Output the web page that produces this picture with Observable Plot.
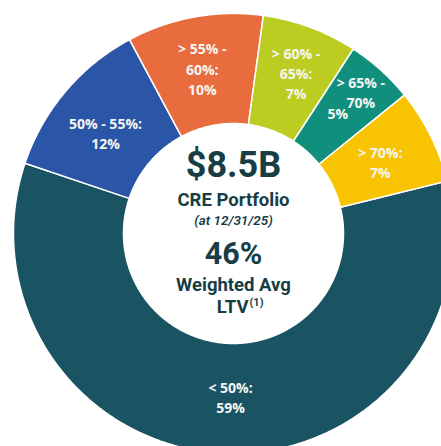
<!DOCTYPE html>
<html><head><meta charset="utf-8">
<script src="https://cdn.jsdelivr.net/npm/d3@7"></script>
<script src="https://cdn.jsdelivr.net/npm/@observablehq/plot@0.6"></script>
<style>html,body{margin:0;padding:0;background:#fff;overflow:hidden}</style>
</head><body><div id="chart"></div>
<script>
// ---- data ----
const categories = ["< 50%", "50% - 55%", "> 55% - 60%", "> 60% - 65%", "> 65% - 70%", "> 70%"];
const shares = [59, 12, 10, 7, 5, 7];
const sliceLabels = ["< 50%:\n59%", "50% - 55%:\n12%", "> 55% -\n60%:\n10%", "> 60% -\n65%:\n7%", "> 65% -\n70%", "> 70%:\n7%"];
const extraLabel = "5%";
const colors = ["#1a5462", "#2b55a7", "#e86c3e", "#bdcc21", "#0f8f7c", "#f8c300"];
const centerLines = ["$8.5B", "CRE Portfolio", "(at 12/31/25)", "46%", "Weighted Avg", "LTV"];
const footnoteMark = "(1)";

// ---- layout ----
const W = 441, H = 446, CX = 233, CY = 233, RPX = 220;
const R_OUT = 1, R_IN = 0.5;
const startAngle = 76.2 * Math.PI / 180;
const labelNudge = [[4, -2], [-2, 6], [-2, -3], [5, -6], [17, -19], [-1, 1]]; // px
const total = d3.sum(shares);
let acc = startAngle;
const slices = categories.map((c, i) => {
  const a0 = acc, a1 = acc + shares[i] / total * 2 * Math.PI;
  acc = a1;
  return {c, i, a0, a1, mid: (a0 + a1) / 2};
});
const pts = [];
for (const s of slices) {
  const n = Math.max(4, Math.ceil((s.a1 - s.a0) / (Math.PI / 360)));
  for (let k = 0; k <= n; k++) {
    const a = s.a0 + (s.a1 - s.a0) * k / n;
    pts.push({c: s.c, x: R_OUT * Math.sin(a), y: R_OUT * Math.cos(a)});
  }
  for (let k = n; k >= 0; k--) {
    const a = s.a0 + (s.a1 - s.a0) * k / n;
    pts.push({c: s.c, x: R_IN * Math.sin(a), y: R_IN * Math.cos(a)});
  }
}
const lr = 0.75;
const lx = s => lr * Math.sin(s.mid) + labelNudge[s.i][0] / RPX;
const ly = s => lr * Math.cos(s.mid) - labelNudge[s.i][1] / RPX;
const s65 = slices[4];
const ink = "#173d45";
const labInk = "#f4f6f4";
const F = "Roboto, 'Liberation Sans', sans-serif";
const lab = "'Open Sans', 'Noto Sans', sans-serif";
const c0 = [{}];
const ctext = (t, dy, size, extra = {}) => Plot.text(c0, {x: () => 0, y: () => 0, text: () => t, dy, fontSize: size, fontWeight: 700, fontFamily: F, fill: ink, lineAnchor: "middle", ...extra});

const chart = Plot.plot({
  width: W, height: H,
  margin: 0,
  x: {domain: [-CX / RPX, (W - CX) / RPX], axis: null},
  y: {domain: [-(H - CY) / RPX, CY / RPX], axis: null},
  color: {domain: categories, range: colors},
  style: {background: "white", overflow: "visible"},
  marks: [
    Plot.line(pts, {x: "x", y: "y", z: "c", fill: "c", stroke: "white", strokeWidth: 1.5, curve: "linear-closed"}),
    Plot.text(slices, {x: lx, y: ly, text: s => sliceLabels[s.i], fill: labInk, fontSize: 14, fontWeight: 700, fontFamily: lab, lineHeight: 1.43, lineAnchor: "middle"}),
    Plot.text([s65], {x: s => lr * Math.sin(s.mid), y: s => lr * Math.cos(s.mid), text: () => extraLabel, dx: -6, dy: 4, fill: labInk, fontSize: 14, fontWeight: 700, fontFamily: lab}),
    ctext(centerLines[0], -68, 36),
    ctext(centerLines[1], -33, 18.5),
    ctext(centerLines[2], -13, 13.5, {fontStyle: "italic", fontWeight: 600}),
    ctext(centerLines[3], 21, 30.5),
    ctext(centerLines[4], 52, 18.5),
    ctext(centerLines[5], 74, 18.5, {textAnchor: "end", dx: 15}),
    ctext(footnoteMark, 69, 11, {textAnchor: "start", dx: 16})
  ]
});
document.getElementById("chart").appendChild(chart);
</script>
</body></html>
